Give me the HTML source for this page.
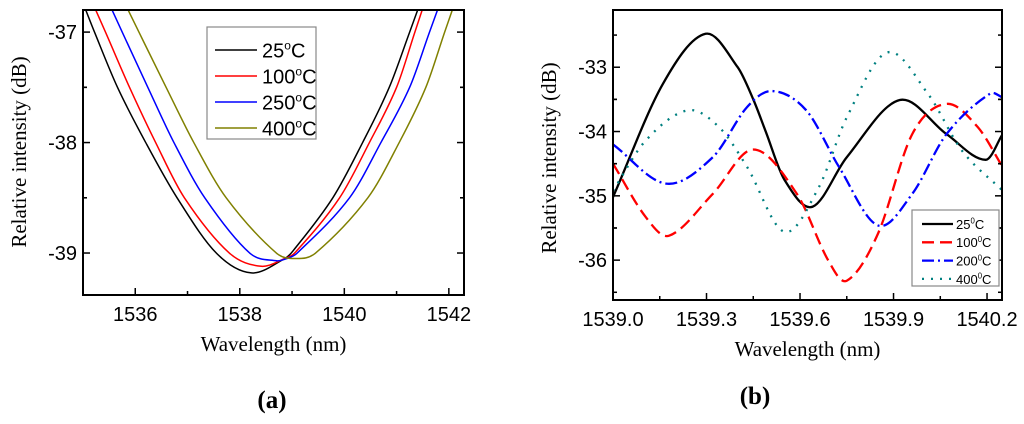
<!DOCTYPE html>
<html><head><meta charset="utf-8">
<style>
html,body{margin:0;padding:0;background:#fff;}
svg{display:block;}
.tk{font-family:"Liberation Sans",sans-serif;font-size:20px;fill:#000;}
.ti{font-family:"Liberation Serif",serif;font-size:21px;fill:#000;}
.lg{font-family:"Liberation Sans",sans-serif;fill:#000;}
</style></head>
<body>
<svg id="fig" width="1024" height="424" viewBox="0 0 1024 424" xmlns="http://www.w3.org/2000/svg">
<defs>
<clipPath id="clipA"><rect x="83" y="10" width="381" height="285"/></clipPath>
<clipPath id="clipB"><rect x="613" y="10" width="389" height="290"/></clipPath>
</defs>
<g id="panelA"></g>
<g id="panelB"></g>
<text x="272" y="408" text-anchor="middle" font-family="Liberation Serif,serif" font-weight="bold" font-size="25">(a)</text>
<text x="755" y="404" text-anchor="middle" font-family="Liberation Serif,serif" font-weight="bold" font-size="25">(b)</text>
</svg>
<script>
// ---- Panel (a) data ----
const aXTicks = [1536, 1538, 1540, 1542];
const aYTicks = [-37, -38, -39];
const aSeriesNames = ["25", "100", "250", "400"];
const aColors = ["#000000", "#ff0000", "#0000ff", "#808000"];
const a25 = [[1534.97,-36.7],[1535.22,-37],[1535.66,-37.5],[1536.2,-38],[1536.8,-38.5],[1537.55,-39],[1538.22,-39.18],[1538.86,-39.05],[1539.02,-38.98],[1539.78,-38.5],[1540.35,-38],[1540.86,-37.5],[1541.25,-37],[1541.48,-36.7]];
const a100 = [[1535.15,-36.7],[1535.43,-37],[1535.89,-37.5],[1536.39,-38],[1536.94,-38.5],[1537.8,-39],[1538.41,-39.12],[1538.86,-39.05],[1539.05,-39.0],[1539.91,-38.5],[1540.48,-38],[1541.0,-37.5],[1541.35,-37],[1541.56,-36.7]];
const a250 = [[1535.46,-36.7],[1535.75,-37],[1536.24,-37.5],[1536.74,-38],[1537.33,-38.5],[1538.19,-39],[1538.7,-39.07],[1538.9,-39.05],[1539.1,-39.0],[1540.1,-38.5],[1540.7,-38],[1541.25,-37.5],[1541.63,-37],[1541.86,-36.7]];
const a400 = [[1535.76,-36.7],[1536.07,-37],[1536.59,-37.5],[1537.12,-38],[1537.74,-38.5],[1538.7,-39],[1539.08,-39.05],[1539.45,-39.0],[1540.45,-38.5],[1541.05,-38],[1541.56,-37.5],[1541.92,-37],[1542.14,-36.7]];

// ---- Panel (b) data ----
const bXTicks = [1539.0, 1539.3, 1539.6, 1539.9, 1540.2];
const bXLabels = ["1539.0","1539.3","1539.6","1539.9","1540.2"];
const bYTicks = [-33, -34, -35, -36];
const bSeriesNames = ["25", "100", "200", "400"];
const bColors = ["#000000", "#ff0000", "#0000ff", "#008080"];
const b25 = [[1539.0,-35.02],[1539.16,-33.26],[1539.297,-32.48],[1539.40,-33.0],[1539.45,-33.5],[1539.49,-34.0],[1539.55,-34.75],[1539.64,-35.17],[1539.75,-34.4],[1539.92,-33.51],[1540.07,-34.04],[1540.196,-34.44],[1540.25,-34.04]];
const b100 = [[1539.0,-34.5],[1539.105,-35.33],[1539.18,-35.62],[1539.32,-34.97],[1539.45,-34.28],[1539.59,-34.97],[1539.69,-36.0],[1539.75,-36.32],[1539.85,-35.59],[1539.96,-34.04],[1540.07,-33.57],[1540.17,-33.93],[1540.25,-34.55]];
const b200 = [[1539.0,-34.2],[1539.17,-34.81],[1539.32,-34.4],[1539.43,-33.62],[1539.51,-33.37],[1539.62,-33.67],[1539.725,-34.55],[1539.85,-35.46],[1539.96,-34.97],[1540.07,-34.04],[1540.21,-33.41],[1540.25,-33.47]];
const b400 = [[1539.0,-34.92],[1539.105,-34.14],[1539.24,-33.67],[1539.34,-33.93],[1539.43,-34.55],[1539.55,-35.56],[1539.66,-34.87],[1539.75,-33.78],[1539.88,-32.77],[1540.01,-33.41],[1540.12,-34.3],[1540.25,-34.92]];

const NS = "http://www.w3.org/2000/svg";
function mk(tag, attrs, parent){ const e=document.createElementNS(NS,tag); for(const k in attrs) e.setAttribute(k,attrs[k]); parent.appendChild(e); return e; }
function smooth(pts){
  const n = pts.length, m = [];
  for(let i=0;i<n;i++){
    const a = pts[Math.max(0,i-1)], b = pts[Math.min(n-1,i+1)];
    m.push((b[1]-a[1])/(b[0]-a[0]));
  }
  let d = "M"+pts[0][0].toFixed(2)+","+pts[0][1].toFixed(2);
  for(let i=0;i<n-1;i++){
    const p1=pts[i],p2=pts[i+1],h=(p2[0]-p1[0])/3;
    d+=" C"+(p1[0]+h).toFixed(2)+","+(p1[1]+m[i]*h).toFixed(2)+" "+(p2[0]-h).toFixed(2)+","+(p2[1]-m[i+1]*h).toFixed(2)+" "+p2[0].toFixed(2)+","+p2[1].toFixed(2);
  }
  return d;
}

function panel(g, cfg){
  const xs = v => cfg.x0 + (v-cfg.xmin)/(cfg.xmax-cfg.xmin)*(cfg.x1-cfg.x0);
  const ys = v => cfg.y1 - (v-cfg.ymin)/(cfg.ymax-cfg.ymin)*(cfg.y1-cfg.y0);
  const sg = mk("g",{"clip-path":"url(#"+cfg.clip+")"},g);
  cfg.series.forEach((s,i)=>{
    const p = mk("path",{d:smooth(s.map(q=>[xs(q[0]),ys(q[1])])),fill:"none",stroke:cfg.colors[i],"stroke-width":cfg.lw,"stroke-dasharray":cfg.dash[i]},sg);
    
    
  });
  const fr = mk("rect",{x:cfg.x0,y:cfg.y0,width:cfg.x1-cfg.x0,height:cfg.y1-cfg.y0,fill:"none",stroke:"#000","stroke-width":2},g);
  
  
  cfg.xTicks.forEach((v,i)=>{
    const x = xs(v);
    mk("line",{x1:x,y1:cfg.y1,x2:x,y2:cfg.y1-7,stroke:"#000","stroke-width":1.5},g);
    const t = mk("text",{x:x,y:cfg.y1+26,"text-anchor":"middle",class:"tk"},g);
    t.textContent = cfg.xLabels ? cfg.xLabels[i] : String(v);
    
    
    const xm = xs(v + cfg.xStep/2);
    if(xm < cfg.x1) mk("line",{x1:xm,y1:cfg.y1,x2:xm,y2:cfg.y1-4,stroke:"#000","stroke-width":1.5},g);
  });
  const xm0 = xs(cfg.xTicks[0]-cfg.xStep/2);
  if(xm0 > cfg.x0) mk("line",{x1:xm0,y1:cfg.y1,x2:xm0,y2:cfg.y1-4,stroke:"#000","stroke-width":1.5},g);
  cfg.yTicks.forEach(v=>{
    const y = ys(v);
    mk("line",{x1:cfg.x0,y1:y,x2:cfg.x0+7,y2:y,stroke:"#000","stroke-width":1.5},g);
    mk("line",{x1:cfg.x1,y1:y,x2:cfg.x1-7,y2:y,stroke:"#000","stroke-width":1.5},g);
    [v+cfg.yStep/2, v-cfg.yStep/2].forEach(mm=>{
      const ym = ys(mm);
      if(ym>cfg.y0+1 && ym<cfg.y1-1){
        mk("line",{x1:cfg.x0,y1:ym,x2:cfg.x0+4,y2:ym,stroke:"#000","stroke-width":1.5},g);
        mk("line",{x1:cfg.x1,y1:ym,x2:cfg.x1-4,y2:ym,stroke:"#000","stroke-width":1.5},g);
      }
    });
    const t = mk("text",{x:cfg.x0-6,y:y+7,"text-anchor":"end",class:"tk"},g);
    t.textContent = String(v);
    
    
  });
  const xt = mk("text",{x:(cfg.x0+cfg.x1)/2,y:cfg.y1+56,"text-anchor":"middle",class:"ti"},g);
  xt.textContent = "Wavelength (nm)";
  
  
  const yt = mk("text",{x:0,y:0,"text-anchor":"middle",class:"ti",transform:"translate("+cfg.ytx+","+cfg.yty+") rotate(-90)"},g);
  yt.textContent = "Relative intensity (dB)";
  
  
  const L = cfg.leg;
  const lg = mk("g",{},g);
  
  
  mk("rect",{x:L.x,y:L.y,width:L.w,height:L.h,fill:"#fff",stroke:"#888","stroke-width":1.2},lg);
  cfg.names.forEach((n,i)=>{
    const ry = L.r0 + i*L.dr;
    const ln = mk("line",{x1:L.lx0,y1:ry,x2:L.lx1,y2:ry,stroke:cfg.colors[i],"stroke-width":cfg.lw,"stroke-dasharray":cfg.dash[i]},lg);
    
    
    const t = mk("text",{x:L.tx,y:ry+L.fs*0.38,class:"lg","font-size":L.fs},lg);
    
    
    const a = mk("tspan",{},t); a.textContent = n;
    const s = mk("tspan",{dy:-L.fs*0.4,"font-size":L.fs*0.6},t); s.textContent = L.sup;
    const c = mk("tspan",{dy:L.fs*0.4},t); c.textContent = "C";
  });
}

panel(document.getElementById("panelA"),{
  x0:83,x1:464,y0:10,y1:295,xmin:1535.0,xmax:1542.29,ymin:-39.38,ymax:-36.8,
  xTicks:aXTicks,xStep:2,yTicks:aYTicks,yStep:1,clip:"clipA",
  series:[a25,a100,a250,a400],colors:aColors,names:aSeriesNames,lw:1.5,dash:["none","none","none","none"],
  ytx:26,yty:152,
  leg:{x:207,y:27,w:109,h:112,r0:50,dr:26,lx0:215,lx1:257,tx:262,fs:20,sup:"o"}
});
panel(document.getElementById("panelB"),{
  x0:613,x1:1002,y0:10,y1:300,xmin:1539.0,xmax:1540.248,ymin:-36.62,ymax:-32.11,
  xTicks:bXTicks,xLabels:bXLabels,xStep:0.3,yTicks:bYTicks,yStep:1,clip:"clipB",
  series:[b25,b100,b200,b400],colors:bColors,names:bSeriesNames,lw:2.3,dash:["none","12,6","12,4,2,4","2,7"],
  ytx:556,yty:158,
  leg:{x:912,y:210,w:87,h:76,r0:224,dr:18.3,lx0:922,lx1:953,tx:956,fs:13,sup:"0"}
});
</script>
</body></html>
